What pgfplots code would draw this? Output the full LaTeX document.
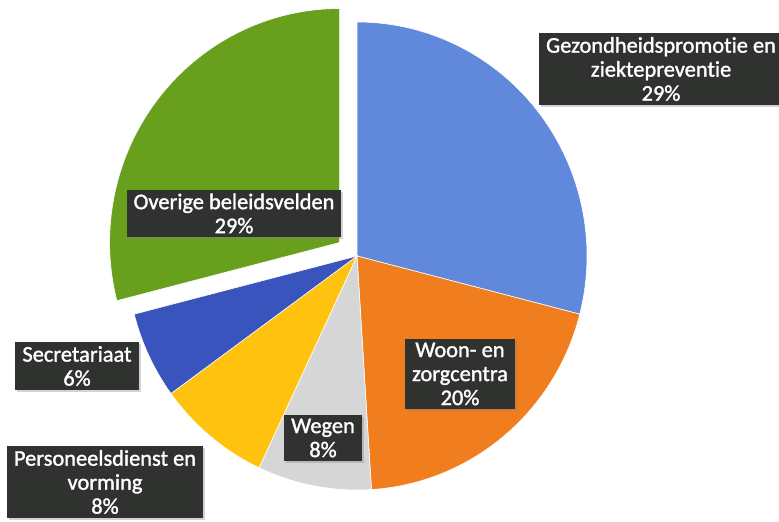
\documentclass[border=0pt]{standalone}
\usepackage{pgfplots}
\pgfplotsset{compat=1.18}
\usepackage{fontspec}
\setmainfont{Carlito}[Ligatures=NoCommon]
\newfontfamily\lblfont{Carlito}[Ligatures=NoCommon, FakeBold=1.4]
\usetikzlibrary{calc,shadows}

\definecolor{cBlue}{RGB}{96,137,220}
\definecolor{cOrange}{RGB}{240,125,30}
\definecolor{cGray}{RGB}{214,214,214}
\definecolor{cYellow}{RGB}{255,195,15}
\definecolor{cDBlue}{RGB}{58,84,190}
\definecolor{cGreen}{RGB}{104,160,30}
\definecolor{boxc}{RGB}{48,50,48}

% #1 start (percent), #2 share (percent), #3 colour, #4 explode (pt)
\newcommand{\slice}[4]{%
  \fill[#3, draw=white, line width=0.3pt]
    ($(axis cs:357,266)+({90-3.6*(#1+#2/2)}:#4pt)$)
    -- ++({115*cos(90-3.6*#1)*1pt},{117*sin(90-3.6*#1)*1pt})
    arc[start angle={90-3.6*#1}, end angle={90-3.6*(#1+#2)}, x radius=115pt, y radius=117pt] -- cycle;}

\tikzset{lbl/.style={fill=boxc, text=white, align=center, inner xsep=3.5pt, inner ysep=2pt,
  font=\lblfont\fontsize{11.2}{12}\selectfont,
  drop shadow={opacity=0.35, shadow xshift=1pt, shadow yshift=-1pt}}}

\begin{document}
\begin{tikzpicture}
\begin{axis}[
    width=389.5pt, height=261pt, scale only axis,
    xmin=0, xmax=779, ymin=0, ymax=522,
    hide axis, clip=false]
  % shares: 29, 20, 8, 8, 6, 29 (clockwise from the top)
  \slice{0}{29}{cBlue}{0}
  \slice{29}{20}{cOrange}{0}
  \slice{49}{8}{cGray}{0}
  \slice{57}{8}{cYellow}{0}
  \slice{65}{6}{cDBlue}{0}
  \slice{71}{29}{cGreen}{11}

  \node[lbl] at (axis cs:661,453) {Gezondheidspromotie en\\ziektepreventie\\29\%};
  \node[lbl] at (axis cs:234,308.5) {Overige beleidsvelden\\29\%};
  \node[lbl] at (axis cs:460,148) {Woon- en\\zorgcentra\\20\%};
  \node[lbl] at (axis cs:323,84) {Wegen\\8\%};
  \node[lbl] at (axis cs:77,156) {Secretariaat\\6\%};
  \node[lbl] at (axis cs:105,40) {Personeelsdienst en\\vorming\\8\%};
\end{axis}
\pgfresetboundingbox
\path[use as bounding box] (0,0) rectangle (389.5pt,261pt);
\end{tikzpicture}
\end{document}
